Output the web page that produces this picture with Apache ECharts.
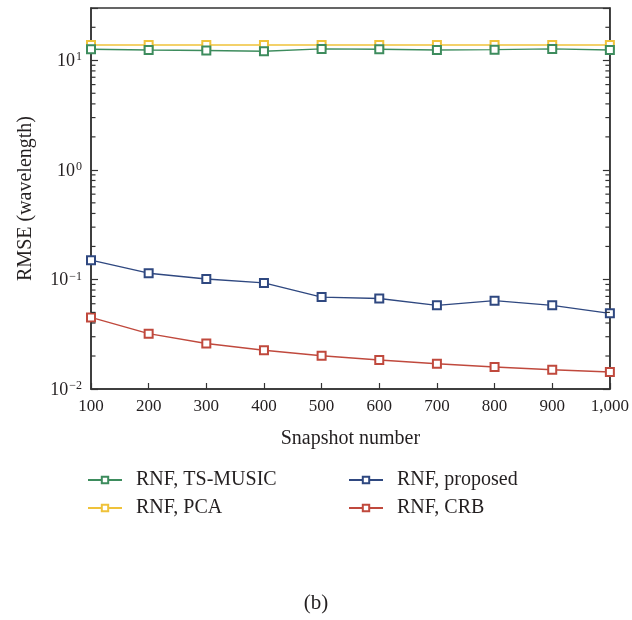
<!DOCTYPE html>
<html><head><meta charset="utf-8">
<script src="https://cdn.jsdelivr.net/npm/echarts@6/dist/echarts.min.js"></script>
<style>html,body{margin:0;padding:0;background:#fff}#c{width:632px;height:620px}</style>
</head><body><div id="c"></div>
<script>
const snapshots = [100, 200, 300, 400, 500, 600, 700, 800, 900, 1000];
const tsMusic  = [12.6, 12.4, 12.3, 12.1, 12.7, 12.6, 12.4, 12.5, 12.7, 12.4];
const pca      = [13.8, 13.8, 13.8, 13.8, 13.8, 13.8, 13.8, 13.8, 13.8, 13.8];
const proposed = [0.150, 0.114, 0.101, 0.093, 0.069, 0.067, 0.058, 0.064, 0.058, 0.049];
const crb      = [0.045, 0.032, 0.026, 0.0226, 0.0201, 0.0184, 0.0170, 0.0159, 0.0150, 0.0143];
const minorTickValues = [0.02,0.03,0.04,0.05,0.06,0.07,0.08,0.09,0.2,0.3,0.4,0.5,0.6,0.7,0.8,0.9,2,3,4,5,6,7,8,9,20];
const names = ['RNF, TS-MUSIC', 'RNF, PCA', 'RNF, proposed', 'RNF, CRB'];
const colors = ['#3d8c5d', '#efc23a', '#2f4880', '#c0493d'];
const valuesList = [tsMusic, pca, proposed, crb];

const FONT = '"Liberation Serif", "DejaVu Serif", serif';
const AX = '#333333';
const TXT = '#231f20';

const chart = echarts.init(document.getElementById('c'), null, {renderer: 'canvas'});

function yLabel(v) {
  const e = Math.log10(v);
  const r = Math.round(e);
  if (Math.abs(e - r) > 1e-6) return '';
  return '{b|10}{s|' + (r < 0 ? '\u2212' + (-r) : r) + '}';
}

const lineSeries = names.map((n, i) => ({
  name: n,
  type: 'line',
  data: snapshots.map((x, j) => [x, valuesList[i][j]]),
  symbol: 'emptyRect',
  symbolSize: 8,
  showAllSymbol: true,
  lineStyle: {color: colors[i], width: 1.4},
  itemStyle: {color: colors[i], borderColor: colors[i], borderWidth: 1.4},
  z: i === 1 ? 3 : 4,
  animation: false
}));

const legendBase = {
  orient: 'vertical', top: 470, padding: 0,
  itemWidth: 34, itemHeight: 8, itemGap: 8,
  textStyle: {fontFamily: FONT, fontSize: 20, color: TXT, lineHeight: 20, padding: [0, 0, 0, 9]}
};

const option = {
  animation: false,
  backgroundColor: '#ffffff',
  title: {
    text: '(b)', left: 'center', top: 588,
    textStyle: {fontFamily: FONT, fontSize: 21, fontWeight: 'normal', color: TXT}
  },
  grid: {left: 91, right: 17, top: 8, bottom: 231, show: true, borderColor: AX, borderWidth: 1.5, backgroundColor: 'transparent'},
  legend: [
    Object.assign({data: [names[0], names[1]], left: 87}, legendBase),
    Object.assign({data: [names[2], names[3]], left: 348}, legendBase)
  ],
  xAxis: {
    type: 'value', min: 100, max: 1000, interval: 100,
    name: 'Snapshot number', nameLocation: 'middle', nameGap: 40,
    nameTextStyle: {fontFamily: FONT, fontSize: 20, color: TXT},
    axisLine: {show: true, lineStyle: {color: AX, width: 1.5}},
    axisTick: {show: true, inside: true, length: 6, lineStyle: {color: AX, width: 1.2}},
    axisLabel: {
      margin: 9, fontFamily: FONT, fontSize: 17, color: TXT,
      formatter: v => v >= 1000 ? v.toLocaleString('en-US') : String(v)
    },
    splitLine: {show: false}
  },
  yAxis: [
    {
      type: 'log', logBase: 10, min: 0.01, max: 30, position: 'left',
      name: 'RMSE (wavelength)', nameLocation: 'middle', nameGap: 55, nameRotate: 90,
      nameTextStyle: {fontFamily: FONT, fontSize: 20, color: TXT},
      axisLine: {show: true, lineStyle: {color: AX, width: 1.5}},
      axisTick: {show: true, inside: true, length: 7, lineStyle: {color: AX, width: 1.2}},
      axisLabel: {
        margin: 9, formatter: yLabel,
        rich: {
          b: {fontFamily: FONT, fontSize: 18, color: TXT, lineHeight: 20, verticalAlign: 'bottom'},
          s: {fontFamily: FONT, fontSize: 12, color: TXT, verticalAlign: 'top', padding: [1, 0, 0, 1]}
        }
      },
      splitLine: {show: false}
    },
    {
      type: 'log', logBase: 10, min: 0.01, max: 30, position: 'right',
      axisLine: {show: true, lineStyle: {color: AX, width: 1.5}},
      axisTick: {show: true, inside: true, length: 7, lineStyle: {color: AX, width: 1.2}},
      axisLabel: {show: false},
      splitLine: {show: false}
    }
  ],
  series: lineSeries.concat([{
    type: 'custom',
    silent: true,
    z: 5,
    data: minorTickValues.map(v => [100, v]),
    renderItem: (params, api) => {
      const v = api.value(1);
      const l = api.coord([100, v]);
      const r = api.coord([1000, v]);
      const st = {stroke: AX, lineWidth: 1.2};
      return {type: 'group', children: [
        {type: 'line', shape: {x1: l[0], y1: l[1], x2: l[0] + 4.5, y2: l[1]}, style: st},
        {type: 'line', shape: {x1: r[0], y1: r[1], x2: r[0] - 4.5, y2: r[1]}, style: st}
      ]};
    }
  }])
};
chart.setOption(option);
</script>
</body></html>
